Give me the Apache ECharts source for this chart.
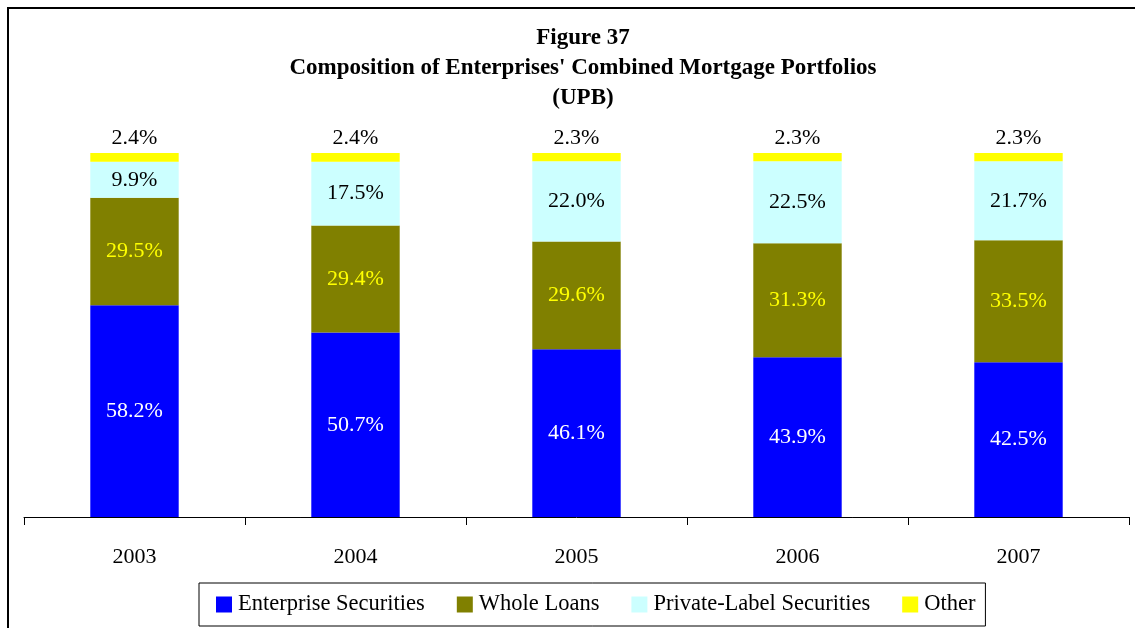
<!DOCTYPE html>
<html>
<head>
<meta charset="utf-8">
<style>
  html, body { margin: 0; padding: 0; background: #fff; }
  #chart { width: 1135px; height: 628px; }
</style>
<script src="https://cdn.jsdelivr.net/npm/echarts@6/dist/echarts.min.js"></script>
</head>
<body>
<div id="chart"></div>
<script>
// Years on the category axis
const years = ['2003', '2004', '2005', '2006', '2007'];

// Share of combined mortgage portfolio (UPB), percent
const enterpriseSecurities = [58.2, 50.7, 46.1, 43.9, 42.5];
const wholeLoans = [29.5, 29.4, 29.6, 31.3, 33.5];
const privateLabelSecurities = [9.9, 17.5, 22.0, 22.5, 21.7];
const other = [2.4, 2.4, 2.3, 2.3, 2.3];

const titleLines = [
  'Figure 37',
  'Composition of Enterprises\' Combined Mortgage Portfolios',
  '(UPB)'
];

const serif = '"Liberation Serif", "Times New Roman", serif';

const chart = echarts.init(document.getElementById('chart'));

function pct(p) { return p.value.toFixed(1) + '%'; }

function barSeries(name, data, color, labelColor, labelPos) {
  return {
    name: name,
    type: 'bar',
    stack: 'total',
    data: data,
    barWidth: '40%',
    itemStyle: { color: color },
    label: {
      show: true,
      position: labelPos,
      distance: 4,
      color: labelColor,
      fontFamily: serif,
      fontSize: 22,
      formatter: pct
    },
    emphasis: { disabled: true }
  };
}

chart.setOption({
  animation: false,
  backgroundColor: '#fff',
  textStyle: { fontFamily: serif },
  title: {
    text: titleLines.join('\n'),
    left: 578,
    textAlign: 'center',
    top: 18,
    textStyle: {
      fontFamily: serif,
      fontSize: 23,
      fontWeight: 'bold',
      color: '#000',
      lineHeight: 30
    }
  },
  graphic: [{
    type: 'rect',
    shape: { x: 8, y: 8, width: 1200, height: 700 },
    style: { fill: null, stroke: '#000', lineWidth: 2 },
    silent: true
  }],
  legend: {
    left: 199,
    top: 583,
    orient: 'horizontal',
    itemWidth: 16,
    itemHeight: 16,
    itemGap: 32,
    padding: [10, 10, 10, 17],
    borderColor: '#000',
    borderWidth: 1,
    icon: 'rect',
    textStyle: { fontFamily: serif, fontSize: 22.5, color: '#000', padding: [0, 0, 0, 1] },
    data: ['Enterprise Securities', 'Whole Loans', 'Private-Label Securities', 'Other']
  },
  grid: { left: 24, right: 6, top: 153, bottom: 111, containLabel: false },
  xAxis: {
    type: 'category',
    data: years,
    axisLine: { lineStyle: { color: '#000', width: 1 } },
    axisTick: { show: true, length: 8, lineStyle: { color: '#000' } },
    axisLabel: { color: '#000', fontFamily: serif, fontSize: 22, margin: 29 }
  },
  yAxis: {
    type: 'value',
    min: 0,
    max: 100,
    show: false
  },
  series: [
    barSeries('Enterprise Securities', enterpriseSecurities, '#0000FF', '#FFFFFF', 'inside'),
    barSeries('Whole Loans', wholeLoans, '#808000', '#FFFF00', 'inside'),
    barSeries('Private-Label Securities', privateLabelSecurities, '#CCFFFF', '#000000', 'inside'),
    barSeries('Other', other, '#FFFF00', '#000000', 'top')
  ]
});
</script>
</body>
</html>
